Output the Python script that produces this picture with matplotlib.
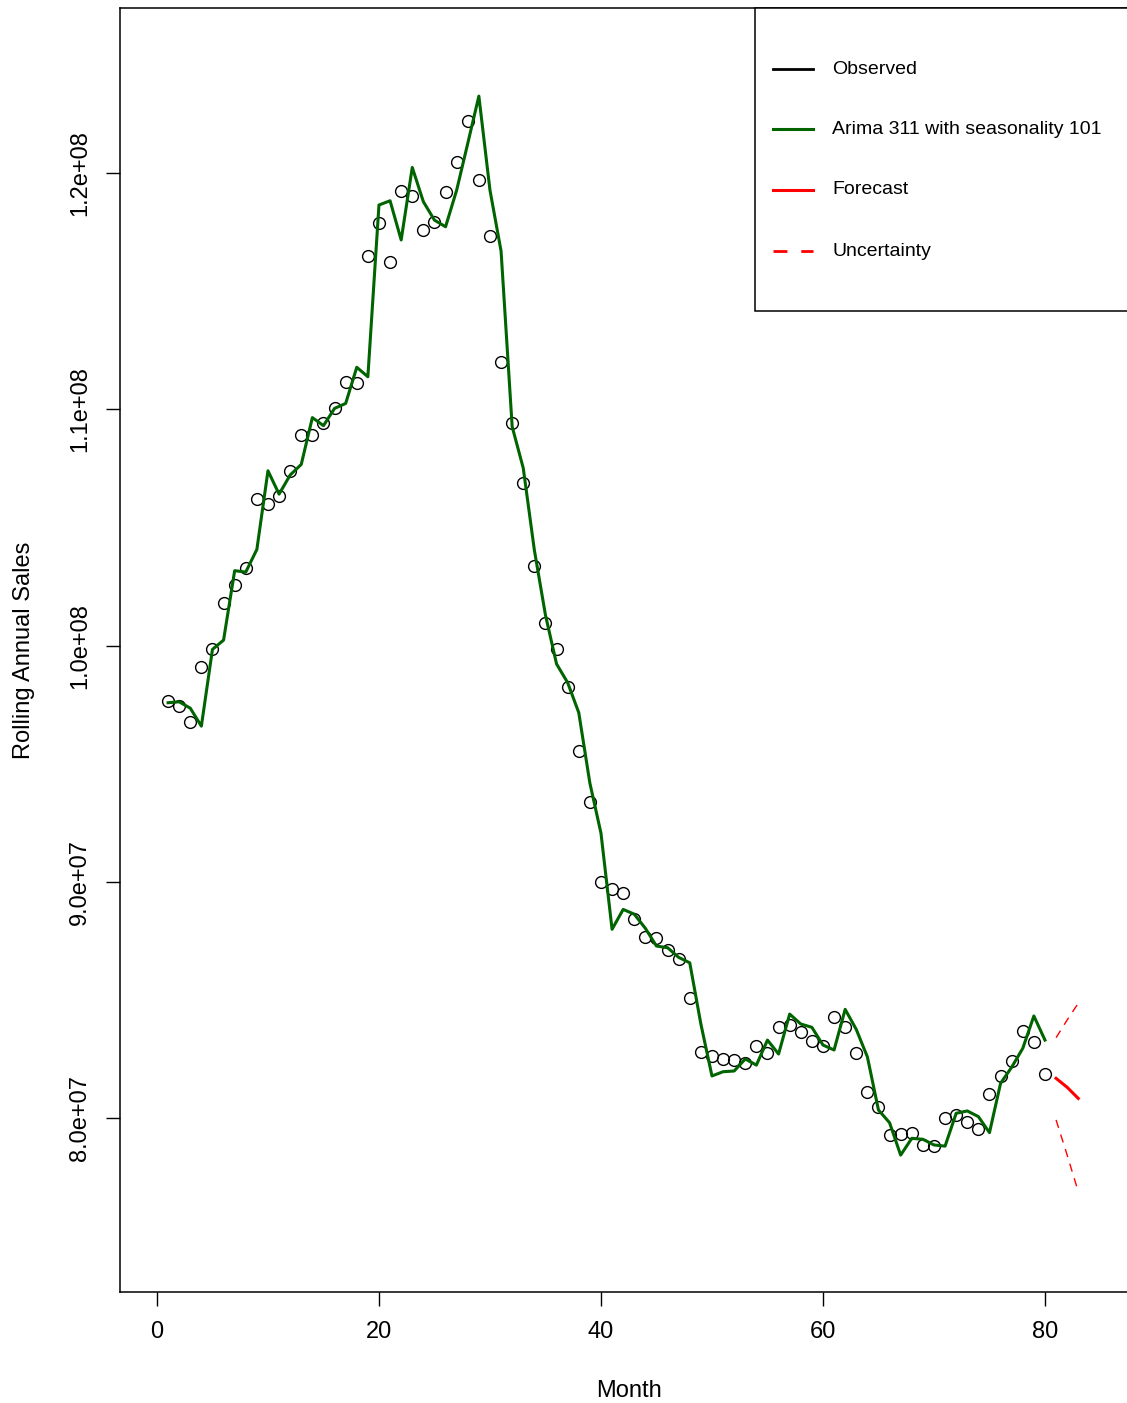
import matplotlib
matplotlib.use("Agg")
import matplotlib.pyplot as plt
from matplotlib.lines import Line2D
from matplotlib.patches import Rectangle
from matplotlib.ticker import FuncFormatter

plt.rcParams['font.family'] = ['Liberation Sans', 'DejaVu Sans']

# Наблюдения (млн), месяцы 1..80
months = list(range(1, 81))
observed = [
    97.65, 97.44, 96.77, 99.10, 99.85, 101.79, 102.56, 103.27, 106.19, 105.98,
    106.33, 107.40, 108.91, 108.91, 109.43, 110.04, 111.17, 111.12, 116.50, 117.90,
    116.25, 119.25, 119.04, 117.59, 117.94, 119.21, 120.48, 122.21, 119.70, 117.33,
    112.01, 109.43, 106.87, 103.35, 100.97, 99.84, 98.26, 95.55, 93.39, 90.00,
    89.69, 89.54, 88.41, 87.68, 87.61, 87.11, 86.73, 85.10, 82.79, 82.62,
    82.51, 82.47, 82.32, 83.06, 82.76, 83.84, 83.94, 83.63, 83.27, 83.05,
    84.29, 83.86, 82.74, 81.09, 80.45, 79.28, 79.32, 79.38, 78.86, 78.83,
    79.99, 80.13, 79.84, 79.53, 81.02, 81.79, 82.43, 83.68, 83.23, 81.86,
]

# Подгонка ARIMA (млн)
fitted = [
    97.58, 97.62, 97.35, 96.59, 99.84, 100.23, 103.17, 103.11, 104.07, 107.40,
    106.41, 107.22, 107.67, 109.65, 109.31, 110.04, 110.25, 111.78, 111.38, 118.65,
    118.83, 117.17, 120.24, 118.79, 118.01, 117.73, 119.28, 121.26, 123.26, 119.28,
    116.70, 109.27, 107.51, 104.04, 101.29, 99.22, 98.43, 97.16, 94.18, 92.06,
    87.99, 88.83, 88.63, 88.03, 87.28, 87.21, 86.80, 86.57, 83.98, 81.78,
    81.96, 81.99, 82.50, 82.24, 83.30, 82.71, 84.40, 83.98, 83.84, 83.09,
    82.88, 84.60, 83.75, 82.59, 80.34, 79.80, 78.43, 79.14, 79.10, 78.86,
    78.81, 80.20, 80.30, 80.06, 79.38, 81.47, 82.15, 82.95, 84.32, 83.30,
]

# Прогноз и интервал (млн)
fc_months = [81, 82, 83]
forecast = [81.68, 81.30, 80.83]
upper = [83.40, 84.15, 84.86]
lower = [79.92, 78.43, 76.88]

legend_labels = ["Observed", "Arima 311 with seasonality 101", "Forecast", "Uncertainty"]

def main():
    fig = plt.figure(figsize=(11.27, 14.03), dpi=100)
    ax = fig.add_axes([120 / 1127, 1 - 1292 / 1403, 1 - 120 / 1127, (1292 - 8) / 1403])

    ax.plot(months, [v * 1e6 for v in observed], linestyle="none", marker="o",
            markersize=8.5, markerfacecolor="none", markeredgecolor="black",
            markeredgewidth=1.0)
    ax.plot(months, [v * 1e6 for v in fitted], color="#006400", linewidth=2.2)
    ax.plot(fc_months, [v * 1e6 for v in forecast], color="red", linewidth=2.2)
    ax.plot(fc_months, [v * 1e6 for v in upper], color="red", linewidth=1.0,
            dashes=(6, 5))
    ax.plot(fc_months, [v * 1e6 for v in lower], color="red", linewidth=1.0,
            dashes=(6, 5))

    ax.set_xlim(-3.33, 87.39)
    ax.set_ylim(72.635e6, 126.99e6)
    ax.set_xticks([0, 20, 40, 60, 80])
    ax.set_yticks([80e6, 90e6, 100e6, 110e6, 120e6])
    ax.yaxis.set_major_formatter(FuncFormatter(lambda v, p: f"{v:.1e}"))

    ax.tick_params(axis="both", direction="out", length=10, width=1.0,
                   labelsize=17, color="black")
    ax.tick_params(axis="x", pad=11)
    ax.tick_params(axis="y", pad=11)
    for lab in ax.get_yticklabels():
        lab.set_rotation(90)
        lab.set_va("center")

    for side in ["left", "bottom", "top"]:
        ax.spines[side].set_linewidth(1.1)
    ax.spines["right"].set_visible(False)

    ax.set_xlabel("Month", fontsize=17)
    ax.xaxis.set_label_coords(0.5055, -0.0685)
    ax.set_ylabel("Rolling Annual Sales", fontsize=17, labelpad=24)

    # Легенда вручную, как в R
    tf = fig.transFigure
    fig.patches.append(Rectangle((755 / 1127, 1 - 311 / 1403), 0.4, (311 - 8) / 1403,
                                 transform=tf, facecolor="white", edgecolor="black",
                                 linewidth=1.1, zorder=5))
    styles = [
        dict(color="black", linewidth=2.0),
        dict(color="#006400", linewidth=2.2),
        dict(color="red", linewidth=2.2),
        dict(color="red", linewidth=2.0, dashes=(5, 5)),
    ]
    rows = [69, 129, 190, 251]
    for lab, st, r in zip(legend_labels, styles, rows):
        yy = 1 - r / 1403
        fig.lines.append(Line2D([773 / 1127, 813 / 1127], [yy, yy], transform=tf,
                                zorder=6, **st))
        fig.text(832 / 1127, yy, lab, fontsize=14, va="center", ha="left", zorder=6)

    fig.savefig("out.png", dpi=100)

if __name__ == "__main__":
    main()
